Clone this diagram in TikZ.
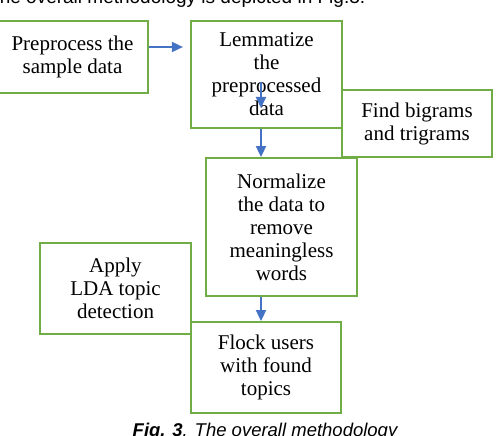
\documentclass[tikz,border=0pt]{standalone}
\usepackage{fontspec}
\setmainfont{Liberation Serif}
\setsansfont{Liberation Sans}
\usepackage{xcolor}
\definecolor{boxgreen}{HTML}{70AD47}
\definecolor{arrowblue}{HTML}{4472C4}
\usetikzlibrary{arrows.meta}
\usetikzlibrary{positioning}

\begin{document}
\begin{tikzpicture}[x=1pt,y=-1pt,
	stage/.style={draw=boxgreen, line width=1.8pt, align=center, inner sep=2pt, font=\fontsize{21}{23}\selectfont},
	flow/.style={-{Triangle[length=11pt,width=10pt]}, arrowblue, line width=1.8pt}]
				\useasboundingbox (0,0) rectangle (504,436);
				\clip (0,0) rectangle (504,436);
				
				%page text
				\node[anchor=base west, inner sep=0, font=\sffamily\fontsize{19}{23}\selectfont] (intro) at (-12,4) {The overall methodology is depicted in Fig.3.};
				\node[anchor=base, inner sep=0, font=\sffamily\itshape\fontsize{18.5}{22}\selectfont] (caption) at (265,436) {\textbf{Fig. 3}. The overall methodology};
				
				%boxes
				\node[stage, minimum width=151pt, minimum height=72pt] (prep) at (72.5,57) {Preprocess the\\sample data};
				\node[stage, minimum width=151pt, minimum height=107pt] (lemma) at (266.5,74.5) {Lemmatize\\the\\preprocessed\\data};
				\node[stage, minimum width=150pt, minimum height=67pt] (gram) at (417,123.5) {Find bigrams\\and trigrams};
				\node[stage, minimum width=151pt, minimum height=138pt] (norm) at (281.5,227) {Normalize\\the data to\\remove\\meaningless\\words};
				\node[stage, minimum width=151pt, minimum height=91pt] (lda) at (115.5,288.5) {Apply\\LDA topic\\detection};
				\node[stage, minimum width=150pt, minimum height=91pt] (flock) at (266,367.5) {Flock users\\with found\\topics};
				
				%draw arrow
				\draw[flow] ([yshift=10pt]prep.east) -- ++(34,0);
				\draw[flow] ([xshift=-5.5pt,yshift=-7.5pt]lemma.center) -- ++(0,26);
				\draw[flow] ([xshift=-5.5pt]lemma.south) -- ([xshift=-5.5pt]lemma.south |- norm.north);
				\draw[flow] ([xshift=-5pt]flock.north |- norm.south) -- ([xshift=-5pt]flock.north);
			\end{tikzpicture}
\end{document}
